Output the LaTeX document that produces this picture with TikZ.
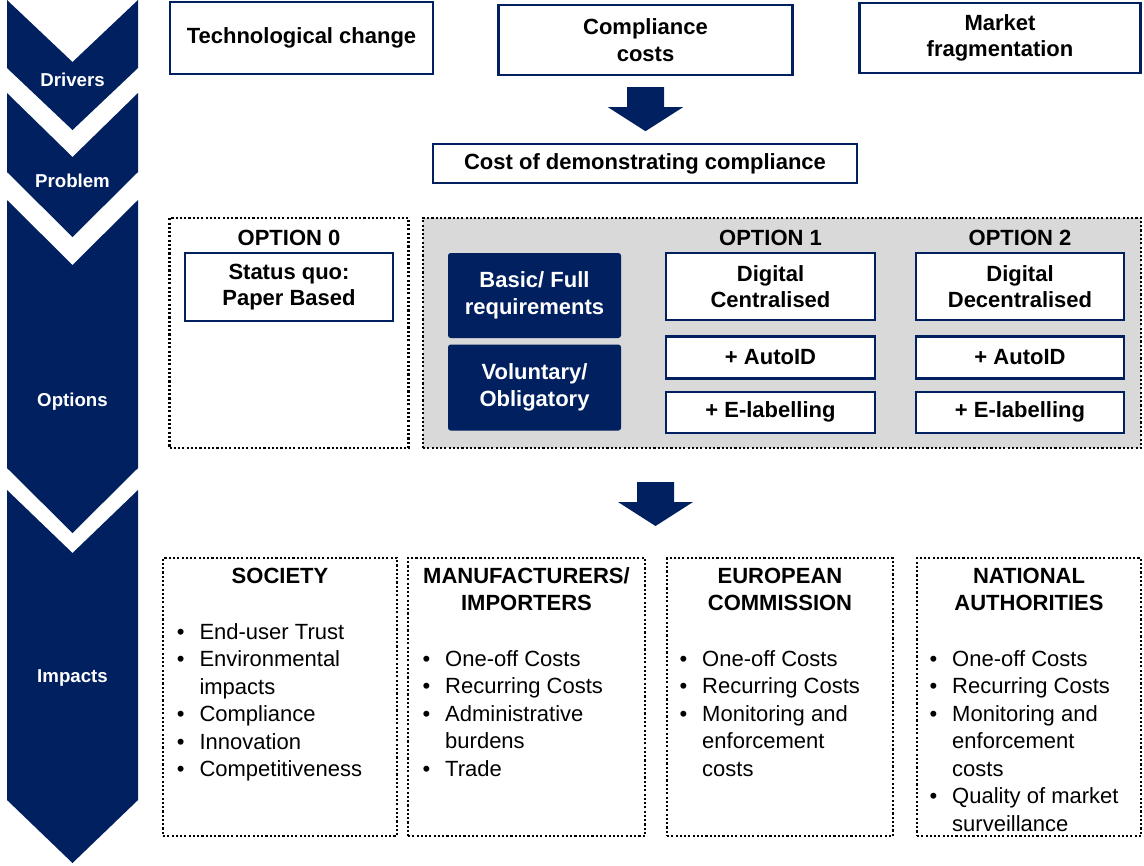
\documentclass[tikz,border=0pt]{standalone}
\usepackage{fontspec}
\setmainfont{Liberation Sans}
\usetikzlibrary{positioning,calc}

\definecolor{navy}{RGB}{0,32,96}
\definecolor{greybg}{RGB}{217,217,217}

\newcommand{\bul}{\makebox[17pt][l]{\textbullet}}
\newcommand{\indt}{\hspace*{17pt}}
\newcommand{\blockarrow}[1]{\fill[navy] (#1) ++(-18.5,0) -- ++(37,0) -- ++(0,20) -- ++(19,0) -- ++(-37.5,24) -- ++(-37.5,-24) -- ++(19,0) -- cycle;}

\begin{document}
\begin{tikzpicture}[
        x=0.75pt, y=-0.75pt,
        wh/.style 2 args={minimum width=#1*0.75pt, minimum height=#2*0.75pt},
        topbox/.style={draw=navy, line width=1.8pt, fill=white, inner sep=0pt, align=center, font=\bfseries\fontsize{16.5pt}{20pt}\selectfont},
        navybox/.style={fill=navy, rounded corners=2pt, text=white, inner sep=0pt, align=center, font=\bfseries\fontsize{16.5pt}{20pt}\selectfont},
        dotbox/.style={draw=black, line width=1.9pt, dash pattern=on 1.6pt off 1.6pt, inner sep=0pt},
        head/.style={inner sep=0pt, align=center, font=\bfseries\fontsize{16.5pt}{20pt}\selectfont},
        items/.style={inner sep=0pt, align=left, font=\fontsize{16.5pt}{20.6pt}\selectfont},
        chevlabel/.style={text=white, inner sep=0pt, font=\bfseries\fontsize{14pt}{16pt}\selectfont}
    ]
    \useasboundingbox (0,0) rectangle (1144,865);

    % Chevrons on the left
    \foreach \t/\a/\b/\p in {0/62/68/130, 93/157/172/237, 200/265/468/533, 490/553/800/863}
        \fill[navy] (7,\t) -- (72.5,\a) -- (138,\t) -- (138,\b) -- (72.5,\p) -- (7,\b) -- cycle;

    \node[chevlabel] (drivers) at (72.5,80) {Drivers};
    \node[chevlabel] (problem) at (72.5,181) {Problem};
    \node[chevlabel] (options) at (72.5,402) {Options};
    \node[chevlabel] (impacts) at (72.5,678) {Impacts};

    % Drivers
    \node[topbox, wh={263}{72}] (tech) at (301.5,38) {Technological change};
    \node[topbox, wh={294}{70}] (compl) at (645.5,40) {Compliance\\costs};
    \node[topbox, wh={281}{70}] (market) at (1000,38) {Market\\fragmentation};

    % Problem
    \blockarrow{$(compl.south)+(0,11)$}
    \node[topbox, wh={424}{39}] (cost) at (645,163.5) {Cost of demonstrating compliance};

    % Options
    \node[dotbox, wh={239}{230}] (opt0) at (289,333) {};
    \node[dotbox, fill=greybg, wh={718}{230}] (opts) at (782,333) {};

    \node[head, anchor=north] (opt0lab) at ($(opt0.north)+(0,13)$) {OPTION 0};
    \node[topbox, wh={208}{68}] (paper) at (289,287) {Status quo:\\Paper Based};

    \node[navybox, wh={173}{85}] (basic) at (534.5,295.5) {Basic/ Full\\requirements};
    \node[navybox, wh={173}{86}, below=4.5pt of basic] (volun) {Voluntary/\\Obligatory};

    \node[topbox, wh={209}{67}] (digc) at (770.5,286.5) {Digital\\Centralised};
    \node[topbox, wh={209}{42}, below=10.5pt of digc] (autoc) {+ AutoID};
    \node[topbox, wh={209}{41}, below=8.25pt of autoc] (elabc) {+ E-labelling};
    \node[head, anchor=north] (opt1lab) at (digc |- opt0lab.north) {OPTION 1};

    \node[topbox, wh={208}{67}] (digd) at (1020,286.5) {Digital\\Decentralised};
    \node[topbox, wh={208}{42}, below=10.5pt of digd] (autod) {+ AutoID};
    \node[topbox, wh={208}{41}, below=8.25pt of autod] (elabd) {+ E-labelling};
    \node[head, anchor=north] (opt2lab) at (digd |- opt0lab.north) {OPTION 2};

    % Impacts
    \blockarrow{655.5,482}

    \node[dotbox, wh={234}{278}] (soc) at (280,697) {};
    \node[dotbox, wh={237}{278}] (man) at (526.5,697) {};
    \node[dotbox, wh={226}{278}] (ec) at (780,697) {};
    \node[dotbox, wh={224}{278}] (na) at (1029,697) {};

    \node[head, anchor=north] (sochd) at ($(soc.north)+(0,11)$) {SOCIETY};
    \node[head, anchor=north] (manhd) at ($(man.north)+(0,11)$) {MANUFACTURERS/\\IMPORTERS};
    \node[head, anchor=north] (echd) at ($(ec.north)+(0,11)$) {EUROPEAN\\COMMISSION};
    \node[head, anchor=north] (nahd) at ($(na.north)+(0,11)$) {NATIONAL\\AUTHORITIES};

    \node[items, anchor=north west] (socl) at (176.6,623) {\bul End-user Trust\\ \bul Environmental\\ \indt impacts\\ \bul Compliance\\ \bul Innovation\\ \bul Competitiveness};
    \node[items, anchor=north west] (manl) at (422.3,650) {\bul One-off Costs\\ \bul Recurring Costs\\ \bul Administrative\\ \indt burdens\\ \bul Trade};
    \node[items, anchor=north west] (ecl) at (679.3,650) {\bul One-off Costs\\ \bul Recurring Costs\\ \bul Monitoring and\\ \indt enforcement\\ \indt costs};
    \node[items, anchor=north west] (nal) at (929.3,650) {\bul One-off Costs\\ \bul Recurring Costs\\ \bul Monitoring and\\ \indt enforcement\\ \indt costs\\ \bul Quality of market\\ \indt surveillance};

\end{tikzpicture}
\end{document}
